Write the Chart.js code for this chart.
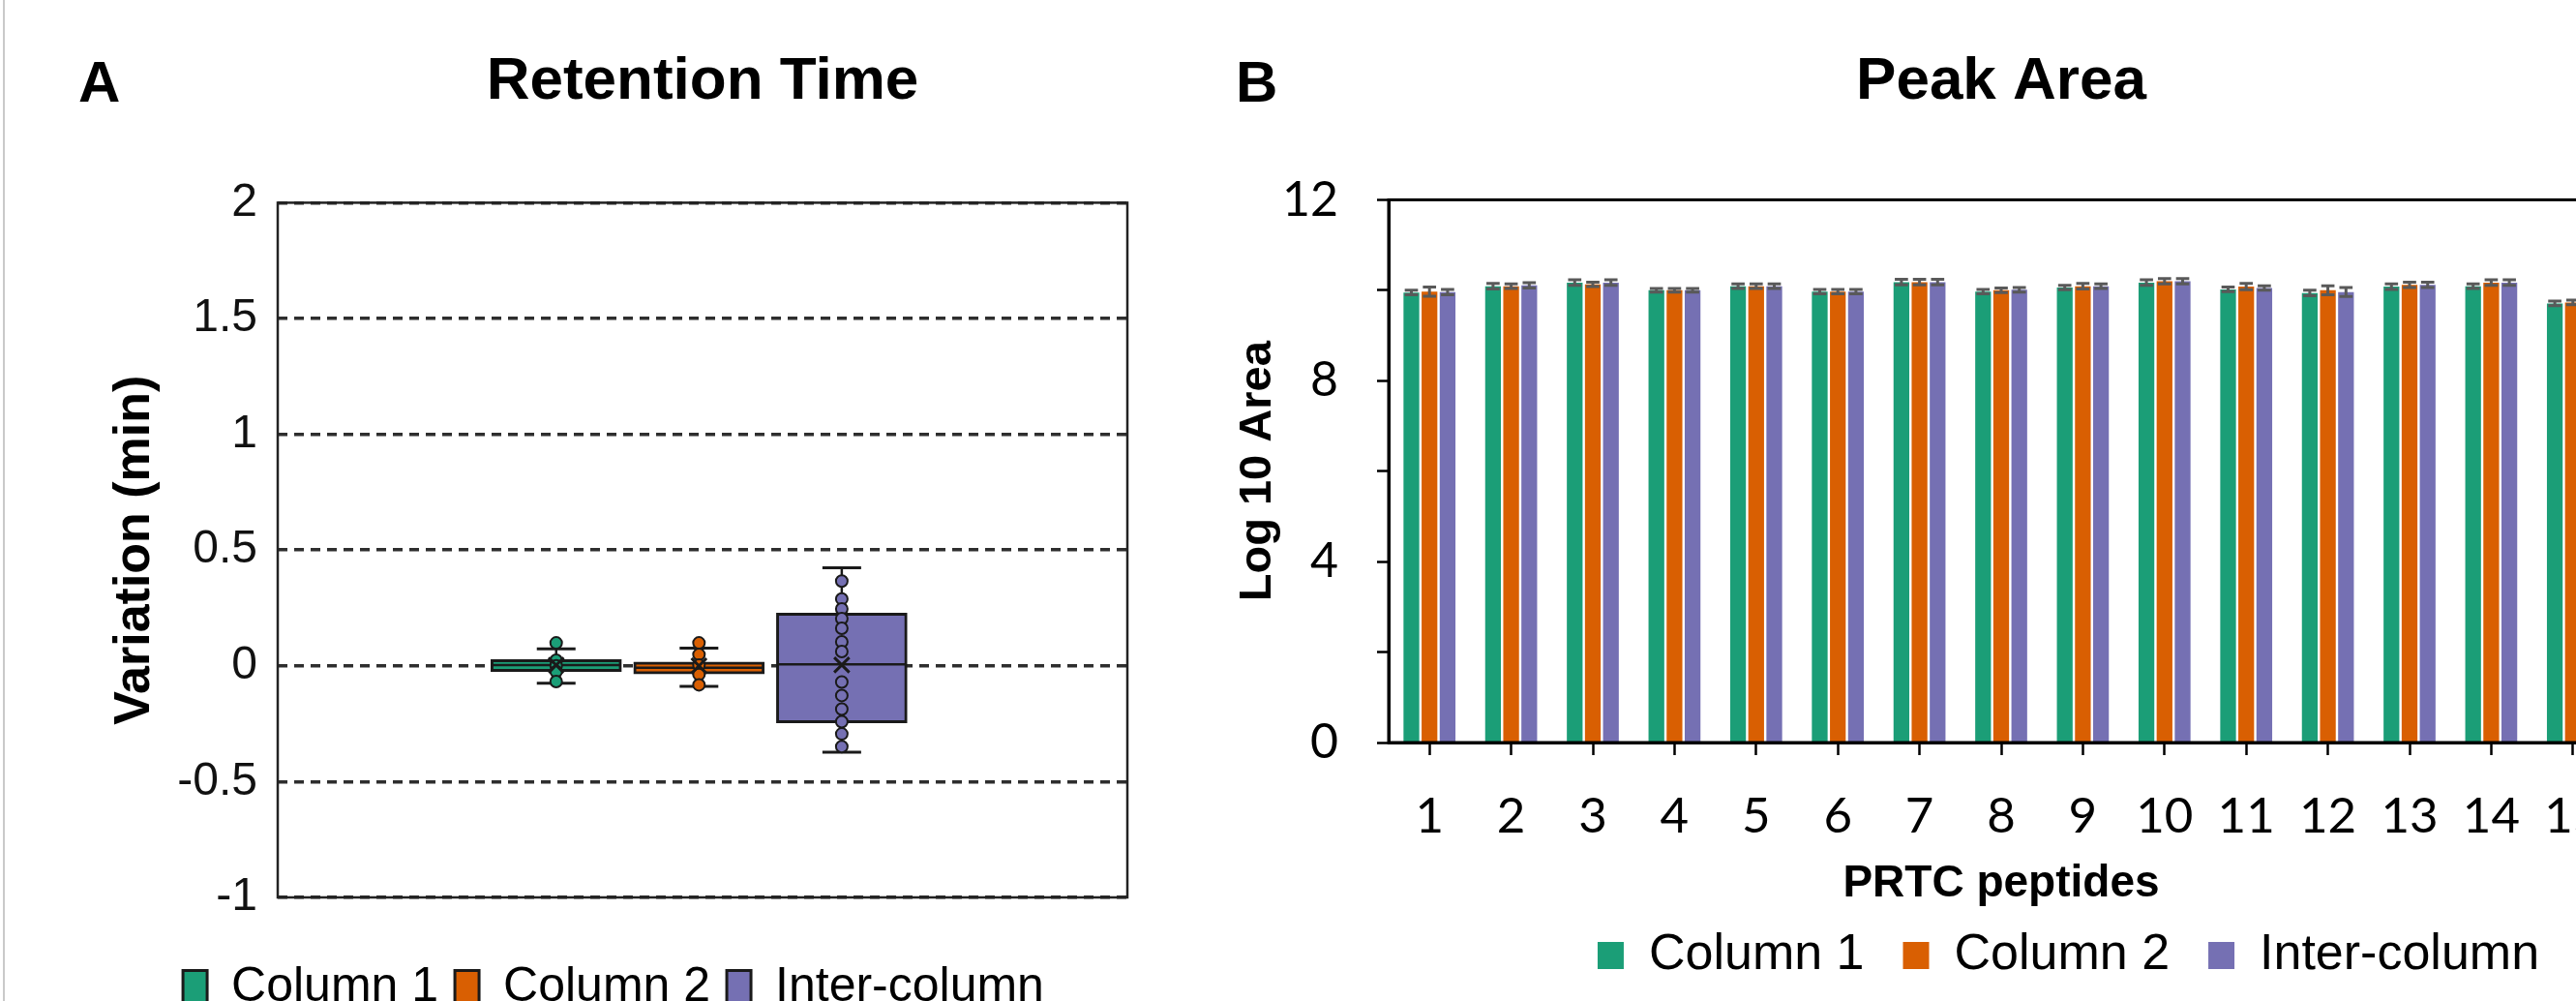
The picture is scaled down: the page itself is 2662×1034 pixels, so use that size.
<!DOCTYPE html>
<html>
<head>
<meta charset="utf-8">
<title>Retention Time / Peak Area</title>
<script src="https://cdn.jsdelivr.net/npm/chart.js@4.4.1/dist/chart.umd.min.js"></script>
<style>
  html, body { margin: 0; padding: 0; background: #fff; }
  body { position: relative; width: 2662px; height: 1034px; overflow: hidden; }
  canvas { position: absolute; top: 0; }
  #rtChart { left: 0; }
  #areaChart { left: 1240px; }
  .edge { position: absolute; left: 3px; top: 0; width: 2px; height: 1034px; background: #c9c9c9; }
  .panel { position: absolute; top: 55px; font: bold 60px "Liberation Sans", Arial, sans-serif; line-height: 1; color: #000; }
</style>
</head>
<body>
<div class="edge"></div>
<canvas id="rtChart" width="1268" height="1055"></canvas>
<canvas id="areaChart" width="1795" height="1023"></canvas>
<div class="panel" style="left:81px">A</div>
<div class="panel" style="left:1277px">B</div>
<script>
// series shared by both panels
const seriesNames = ['Column 1', 'Column 2', 'Inter-column'];
const seriesColors = ['#1b9e77', '#d95f02', '#7570b3'];

// A - retention time variation (min), one box per series
const rtQ1 = [-0.025, -0.035, -0.246];
const rtQ3 = [0.027, 0.017, 0.228];
const rtMedian = [0.003, -0.008, 0.006];
const rtMean = [0.003, 0.0, 0.004];
const rtLow = [-0.075, -0.089, -0.373];
const rtHigh = [0.073, 0.077, 0.423];
const rtPointsCol1 = [0.099, 0.024, 0.0, -0.025, -0.068];
const rtPointsCol2 = [0.099, 0.049, 0.003, -0.037, -0.082];
const rtPointsInter = [0.366, 0.289, 0.246, 0.204, 0.162, 0.104, 0.062, -0.070, -0.128, -0.187, -0.241, -0.294, -0.349];
const rtTicks = [-1, -0.5, 0, 0.5, 1, 1.5, 2];

// B - log10 peak area per PRTC peptide
const peptides = ['1', '2', '3', '4', '5', '6', '7', '8', '9', '10', '11', '12', '13', '14', '15'];
const areaCol1 = [9.95, 10.09, 10.17, 10.0, 10.09, 9.97, 10.18, 9.97, 10.06, 10.17, 10.02, 9.94, 10.08, 10.09, 9.71];
const areaCol2 = [9.97, 10.09, 10.13, 10.0, 10.09, 9.97, 10.18, 10.0, 10.09, 10.2, 10.08, 10.0, 10.12, 10.17, 9.73];
const areaInter = [9.96, 10.11, 10.17, 10.0, 10.09, 9.97, 10.18, 10.01, 10.09, 10.2, 10.05, 9.96, 10.12, 10.17, 9.73];
const errCol1 = [0.05, 0.06, 0.06, 0.04, 0.05, 0.05, 0.06, 0.05, 0.05, 0.06, 0.05, 0.06, 0.06, 0.05, 0.05];
const errCol2 = [0.1, 0.05, 0.05, 0.04, 0.05, 0.05, 0.06, 0.05, 0.06, 0.06, 0.07, 0.1, 0.06, 0.06, 0.05];
const errInter = [0.06, 0.06, 0.06, 0.04, 0.05, 0.05, 0.06, 0.05, 0.05, 0.06, 0.05, 0.1, 0.06, 0.06, 0.05];
const areaTicks = [0, 4, 8, 12];

Chart.defaults.font.family = '"Liberation Sans", Arial, sans-serif';
Chart.defaults.color = '#111';
Chart.defaults.animation = false;

// box round the plot area
const plotFrame = {
  id: 'plotFrame',
  afterDraw(chart, args, opts) {
    const {ctx, chartArea: a} = chart;
    ctx.save();
    ctx.strokeStyle = opts.color;
    ctx.lineWidth = opts.width;
    ctx.strokeRect(a.left, a.top, a.right - a.left, a.bottom - a.top);
    ctx.restore();
  }
};

// error bars on top of the bars (B)
const errorBars = {
  id: 'errorBars',
  afterDatasetsDraw(chart) {
    const {ctx, scales: {y}} = chart;
    ctx.save();
    ctx.strokeStyle = '#595959';
    ctx.lineWidth = 3;
    chart.data.datasets.forEach((ds, i) => {
      if (!ds.errors) return;
      chart.getDatasetMeta(i).data.forEach((bar, j) => {
        const top = y.getPixelForValue(ds.data[j] + ds.errors[j]);
        const bottom = y.getPixelForValue(ds.data[j] - ds.errors[j]);
        const half = bar.width * 0.42;
        ctx.beginPath();
        ctx.moveTo(bar.x, top); ctx.lineTo(bar.x, bottom);
        ctx.moveTo(bar.x - half, top); ctx.lineTo(bar.x + half, top);
        ctx.moveTo(bar.x - half, bottom); ctx.lineTo(bar.x + half, bottom);
        ctx.stroke();
      });
    });
    ctx.restore();
  }
};

// ---- Panel A: box plots ----
const rtPointSets = [rtPointsCol1, rtPointsCol2, rtPointsInter];
const slot = i => i + 1;
const ink = '#1a1a1a';

const rtDatasets = seriesNames.map((name, i) => ({
  type: 'bar',
  label: name,
  data: [{x: slot(i), y: [rtQ1[i], rtQ3[i]]}],
  backgroundColor: seriesColors[i],
  borderColor: ink,
  borderWidth: 3,
  borderSkipped: false,
  barThickness: 135,
  grouped: false,
  order: 2
}));

seriesNames.forEach((name, i) => {
  const x = slot(i);
  // whisker stem
  rtDatasets.push({
    type: 'line',
    data: [{x, y: rtLow[i]}, {x, y: rtHigh[i]}],
    borderColor: ink, borderWidth: 2.5, pointRadius: 0, order: 3
  });
  // whisker caps
  rtDatasets.push({
    type: 'scatter',
    data: [{x, y: rtLow[i]}, {x, y: rtHigh[i]}],
    pointStyle: 'line', pointRadius: 20, pointBorderColor: ink, pointBorderWidth: 3, order: 1
  });
  // median
  rtDatasets.push({
    type: 'scatter',
    data: [{x, y: rtMedian[i]}],
    pointStyle: 'line', pointRadius: 66, pointBorderColor: ink, pointBorderWidth: 2.5, order: 1
  });
  // individual values
  rtDatasets.push({
    type: 'scatter',
    data: rtPointSets[i].map(v => ({x, y: v})),
    pointStyle: 'circle', pointRadius: 6,
    pointBackgroundColor: seriesColors[i], pointBorderColor: ink, pointBorderWidth: 2, order: 0
  });
  // mean
  rtDatasets.push({
    type: 'scatter',
    data: [{x, y: rtMean[i]}],
    pointStyle: 'crossRot', pointRadius: 11, pointBorderColor: ink, pointBorderWidth: 3, order: -1
  });
});

new Chart(document.getElementById('rtChart'), {
  type: 'bar',
  data: { datasets: rtDatasets },
  options: {
    responsive: false,
    scales: {
      x: {
        type: 'linear', min: -0.95, max: 5, offset: false,
        ticks: { display: false },
        grid: { display: false },
        border: { display: false },
        afterFit: a => { a.height = 51; }
      },
      y: {
        min: -1, max: 2,
        afterBuildTicks: a => { a.ticks = rtTicks.map(v => ({value: v})); },
        ticks: { font: { size: 48 }, color: '#111', padding: 21, callback: v => String(v) },
        grid: { color: '#2e2e2e', lineWidth: 3.5, drawTicks: false },
        border: { display: false, dash: [10, 7] },
        title: {
          display: true, text: 'Variation (min)', color: '#000',
          font: { size: 52, weight: 'bold' }, padding: { top: 108, bottom: 0 }
        },
        afterFit: a => { a.width = 287; }
      },
      pad: {
        axis: 'y', position: 'right',
        ticks: { display: false }, grid: { display: false }, border: { display: false },
        afterFit: a => { a.width = 103; }
      }
    },
    plugins: {
      title: {
        display: true, text: 'Retention Time', fullSize: false, color: '#000',
        font: { size: 62, weight: 'bold' }, padding: { top: 48, bottom: 87 }
      },
      legend: {
        position: 'bottom',
        labels: {
          filter: item => item.datasetIndex < 3,
          font: { size: 50 }, color: '#000', boxWidth: 25, boxHeight: 35, padding: 17
        }
      },
      tooltip: { enabled: false },
      plotFrame: { color: '#222', width: 2.5 }
    }
  },
  plugins: [plotFrame]
});

// ---- Panel B: grouped bars ----
new Chart(document.getElementById('areaChart'), {
  type: 'bar',
  data: {
    labels: peptides,
    datasets: [
      { label: seriesNames[0], data: areaCol1, errors: errCol1, backgroundColor: seriesColors[0] },
      { label: seriesNames[1], data: areaCol2, errors: errCol2, backgroundColor: seriesColors[1] },
      { label: seriesNames[2], data: areaInter, errors: errInter, backgroundColor: seriesColors[2] }
    ]
  },
  options: {
    responsive: false,
    datasets: { bar: { categoryPercentage: 0.665, barPercentage: 0.87 } },
    scales: {
      x: {
        grid: { offset: false, drawOnChartArea: false, tickLength: 13, tickWidth: 2.5, tickColor: '#000' },
        border: { color: '#000', width: 3 },
        ticks: { font: { family: 'Lato', size: 51 }, color: '#000', padding: 33, maxRotation: 0, autoSkip: false },
        title: {
          display: true, text: 'PRTC peptides', color: '#000',
          font: { size: 46, weight: 'bold', lineHeight: 1 }, padding: { top: 0, bottom: -15 }
        },
        afterFit: a => { a.height = 154; }
      },
      y: {
        min: 0, max: 12,
        ticks: {
          stepSize: 1, font: { family: 'Lato', size: 50 }, color: '#000', padding: 40,
          callback: v => areaTicks.includes(v) ? String(v) : ''
        },
        grid: { drawOnChartArea: false, tickLength: 12, tickWidth: 2.5, tickColor: '#000' },
        border: { color: '#000', width: 3 },
        title: {
          display: true, text: 'Log 10 Area', color: '#000',
          font: { size: 47, weight: 'bold' }, padding: { top: 32, bottom: 0 }
        },
        afterFit: a => { a.width = 195; }
      },
      pad: {
        axis: 'y', position: 'right',
        ticks: { display: false }, grid: { display: false }, border: { display: false },
        afterFit: a => { a.width = 334; }
      }
    },
    plugins: {
      title: {
        display: true, text: 'Peak Area', fullSize: false, color: '#000',
        font: { size: 62, weight: 'bold' }, padding: { top: 48, bottom: 84 }
      },
      legend: {
        position: 'bottom',
        labels: { font: { size: 52 }, color: '#000', boxWidth: 27, boxHeight: 28, padding: 40 }
      },
      tooltip: { enabled: false },
      plotFrame: { color: '#000', width: 3 }
    }
  },
  plugins: [plotFrame, errorBars]
});
</script>
</body>
</html>
